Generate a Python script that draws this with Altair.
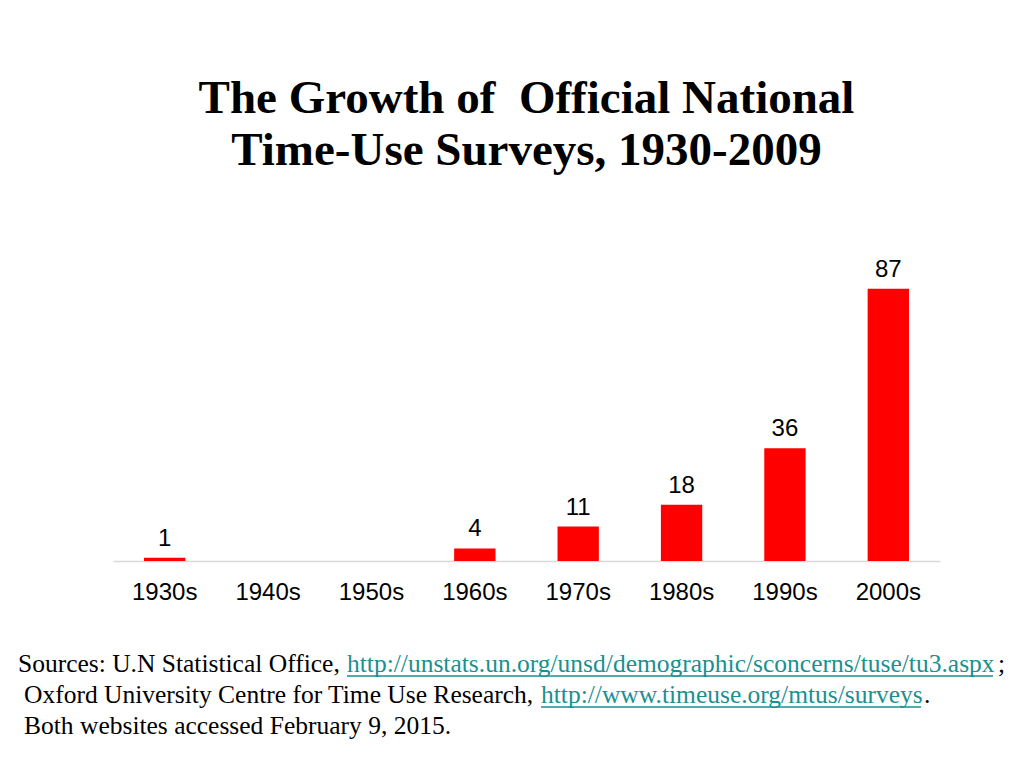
import altair as alt
import pandas as pd

decades = ["1930s", "1940s", "1950s", "1960s", "1970s", "1980s", "1990s", "2000s"]
counts = [1, None, None, 4, 11, 18, 36, 87]
title_lines = ["The Growth of\u00a0 Official National", "Time-Use Surveys, 1930-2009"]

src_black = ["Sources: U.N Statistical Office,", "Oxford University Centre for Time Use Research,", "Both websites accessed February 9, 2015."]
src_links = ["http://unstats.un.org/unsd/demographic/sconcerns/tuse/tu3.aspx", "http://www.timeuse.org/mtus/surveys"]
src_tail = [";", "."]

df = pd.DataFrame({"decade": decades, "count": counts})

x_enc = alt.X("decade:N", sort=decades, title=None,
              scale=alt.Scale(paddingInner=0.6, paddingOuter=0.3),
              axis=alt.Axis(labelAngle=0, labelFont="Liberation Sans", labelFontSize=24,
                            labelColor="#000000", labelPadding=19, ticks=False,
                            domainColor="#d9d9d9", domainWidth=1.5, grid=False))
y_enc = alt.Y("count:Q", scale=alt.Scale(domain=[0, 100]), axis=None)

base = alt.Chart(df)
bars = base.mark_bar(color="#ff0000").encode(x=x_enc, y=y_enc)
labels = base.mark_text(font="Liberation Sans", fontSize=24, color="#000000",
                        baseline="alphabetic", dy=-12).encode(
    x=alt.X("decade:N", sort=decades), y="count:Q", text="count:Q")

FS = 25.5
LINK = "#1a9090"

def txt(s, x, y, color="#000000"):
    return alt.Chart(pd.DataFrame({"t": [s]})).mark_text(
        font="Liberation Serif", fontSize=FS, align="left", baseline="alphabetic", color=color
    ).encode(x=alt.value(x), y=alt.value(y), text="t:N")

def uline(x1, x2, y):
    return alt.Chart(pd.DataFrame({"a": [0]})).mark_rule(color=LINK, strokeWidth=1.3).encode(
        x=alt.value(x1), x2=alt.value(x2), y=alt.value(y))

src = [
    txt(src_black[0], -95, 424),
    txt(src_links[0], 234, 424, LINK),
    uline(234, 880, 428),
    txt(src_tail[0], 885, 424),
    txt(src_black[1], -89, 455),
    txt(src_links[1], 428, 455, LINK),
    uline(428, 808, 459),
    txt(src_tail[1], 811, 455),
    txt(src_black[2], -89, 486),
]

chart = alt.layer(bars, labels, *src).properties(
    width=827, height=313,
    title=alt.TitleParams(text=title_lines, font="Liberation Serif", fontSize=47,
                          fontWeight="bold", color="#000000", anchor="middle",
                          lineHeight=52, offset=73),
    autosize=alt.AutoSizeParams(type="none"),
    padding={"left": 105, "top": 240, "right": 76, "bottom": 199},
).configure_view(stroke=None)

chart.save("out.html", embed_options={"renderer": "svg", "actions": False})
